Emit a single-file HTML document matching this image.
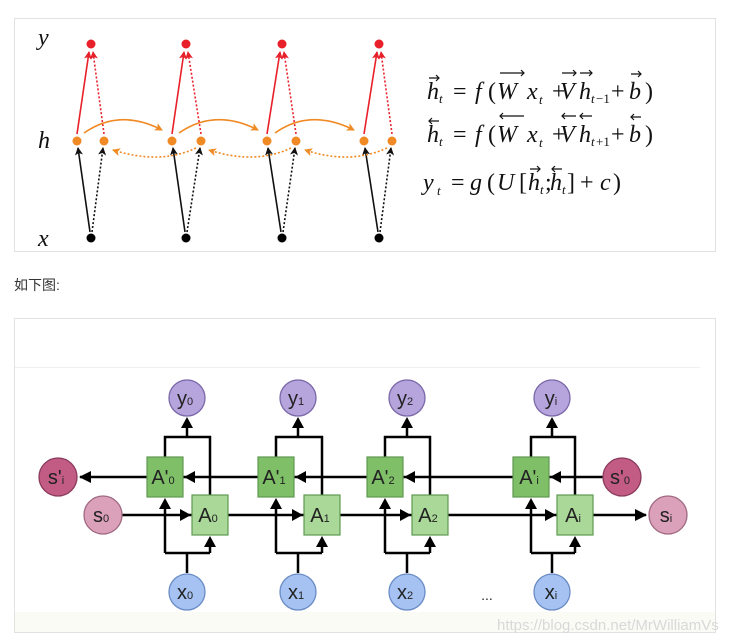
<!DOCTYPE html>
<html><head><meta charset="utf-8"><style>
body{margin:0;background:#fff;width:741px;height:644px;overflow:hidden}
svg{display:block}
</style></head><body>
<svg width="741" height="644" viewBox="0 0 741 644" xmlns="http://www.w3.org/2000/svg">
<defs>
<marker id="ar" markerWidth="8" markerHeight="8" refX="7" refY="4" orient="auto" markerUnits="userSpaceOnUse"><path d="M0,0 L8,4 L0,8 L2,4z" fill="#e8202a"/></marker>
<marker id="ab" markerWidth="8" markerHeight="8" refX="7" refY="4" orient="auto" markerUnits="userSpaceOnUse"><path d="M0,0 L8,4 L0,8 L2,4z" fill="#111"/></marker>
<marker id="ao" markerWidth="8" markerHeight="8" refX="7" refY="4" orient="auto" markerUnits="userSpaceOnUse"><path d="M0,0 L8,4 L0,8 L2,4z" fill="#f08a24"/></marker>
<marker id="ak" markerWidth="12" markerHeight="12" refX="11" refY="6" orient="auto" markerUnits="userSpaceOnUse"><path d="M0,0 L12,6 L0,12z" fill="#000"/></marker>
</defs>
<rect x="14.5" y="18.5" width="701" height="233" fill="#fff" stroke="#e2e2e2"/>
<g font-family="Liberation Serif, serif" font-style="italic" font-size="24" fill="#111">
<text x="38" y="45">y</text><text x="38" y="148">h</text><text x="38" y="246">x</text>
</g>
<g stroke-width="1.6" fill="none">
<line x1="77" y1="134" x2="89" y2="52" stroke="#e8202a" marker-end="url(#ar)"/>
<line x1="104" y1="134" x2="93" y2="52" stroke="#e8202a" stroke-dasharray="2,2" marker-end="url(#ar)"/>
<line x1="90" y1="232" x2="78" y2="148" stroke="#111" marker-end="url(#ab)"/>
<line x1="92" y1="232" x2="103" y2="148" stroke="#111" stroke-dasharray="2,2" marker-end="url(#ab)"/>
<line x1="172" y1="134" x2="184" y2="52" stroke="#e8202a" marker-end="url(#ar)"/>
<line x1="201" y1="134" x2="188" y2="52" stroke="#e8202a" stroke-dasharray="2,2" marker-end="url(#ar)"/>
<line x1="185" y1="232" x2="173" y2="148" stroke="#111" marker-end="url(#ab)"/>
<line x1="187" y1="232" x2="200" y2="148" stroke="#111" stroke-dasharray="2,2" marker-end="url(#ab)"/>
<line x1="267" y1="134" x2="280" y2="52" stroke="#e8202a" marker-end="url(#ar)"/>
<line x1="296" y1="134" x2="284" y2="52" stroke="#e8202a" stroke-dasharray="2,2" marker-end="url(#ar)"/>
<line x1="281" y1="232" x2="268" y2="148" stroke="#111" marker-end="url(#ab)"/>
<line x1="283" y1="232" x2="295" y2="148" stroke="#111" stroke-dasharray="2,2" marker-end="url(#ab)"/>
<line x1="364" y1="134" x2="377" y2="52" stroke="#e8202a" marker-end="url(#ar)"/>
<line x1="392" y1="134" x2="381" y2="52" stroke="#e8202a" stroke-dasharray="2,2" marker-end="url(#ar)"/>
<line x1="378" y1="232" x2="365" y2="148" stroke="#111" marker-end="url(#ab)"/>
<line x1="380" y1="232" x2="391" y2="148" stroke="#111" stroke-dasharray="2,2" marker-end="url(#ab)"/>
<path d="M84,133 Q120,108 162,130" stroke="#f08a24" marker-end="url(#ao)"/>
<path d="M179,133 Q215,108 258,130" stroke="#f08a24" marker-end="url(#ao)"/>
<path d="M275,133 Q310,108 354,130" stroke="#f08a24" marker-end="url(#ao)"/>
<path d="M196,148 Q160,165 113,150" stroke="#f08a24" stroke-dasharray="2,2" marker-end="url(#ao)"/>
<path d="M291,148 Q255,165 209,150" stroke="#f08a24" stroke-dasharray="2,2" marker-end="url(#ao)"/>
<path d="M387,148 Q350,165 305,150" stroke="#f08a24" stroke-dasharray="2,2" marker-end="url(#ao)"/>
</g>
<g fill="#e8202a"><circle cx="91" cy="44" r="4.5"/><circle cx="186" cy="44" r="4.5"/><circle cx="282" cy="44" r="4.5"/><circle cx="379" cy="44" r="4.5"/></g>
<g fill="#f08a24"><circle cx="77" cy="141" r="4.5"/><circle cx="104" cy="141" r="4.5"/><circle cx="172" cy="141" r="4.5"/><circle cx="201" cy="141" r="4.5"/><circle cx="267" cy="141" r="4.5"/><circle cx="296" cy="141" r="4.5"/><circle cx="364" cy="141" r="4.5"/><circle cx="392" cy="141" r="4.5"/></g>
<g fill="#000"><circle cx="91" cy="238" r="4.5"/><circle cx="186" cy="238" r="4.5"/><circle cx="282" cy="238" r="4.5"/><circle cx="379" cy="238" r="4.5"/></g>
<!-- equations -->
<g font-family="Liberation Serif, serif" font-size="24" fill="#111">
<g font-style="italic">
<text x="427" y="99">h</text><text x="439" y="103" font-size="13">t</text>
<text x="475" y="99">f</text>
<text x="497" y="99">W</text><text x="527" y="99">x</text><text x="539" y="104" font-size="13">t</text>
<text x="560" y="99">V</text><text x="579" y="99">h</text><text x="591" y="103" font-size="13">t</text>
<text x="629" y="99">b</text>
<text x="427" y="142">h</text><text x="439" y="146" font-size="13">t</text>
<text x="475" y="142">f</text>
<text x="497" y="142">W</text><text x="527" y="142">x</text><text x="539" y="147" font-size="13">t</text>
<text x="560" y="142">V</text><text x="579" y="142">h</text><text x="591" y="146" font-size="13">t</text>
<text x="629" y="142">b</text>
<text x="423" y="190">y</text><text x="437" y="195" font-size="13">t</text>
<text x="470" y="190">g</text>
<text x="497" y="190">U</text>
<text x="528" y="190">h</text><text x="540" y="194" font-size="13">t</text>
<text x="550" y="190">h</text><text x="562" y="194" font-size="13">t</text>
<text x="600" y="190">c</text>
</g>
<text x="453" y="99">=</text><text x="488" y="99">(</text><text x="552" y="99">+</text><text x="596" y="103" font-size="13">−1</text><text x="611" y="99">+</text><text x="645" y="99">)</text>
<text x="453" y="142">=</text><text x="488" y="142">(</text><text x="552" y="142">+</text><text x="596" y="146" font-size="13">+1</text><text x="611" y="142">+</text><text x="645" y="142">)</text>
<text x="451" y="190">=</text><text x="487" y="190">(</text><text x="519" y="190">[</text><text x="545" y="190">;</text><text x="567" y="190">]</text><text x="580" y="190">+</text><text x="613" y="190">)</text>
</g>
<g stroke="#111" stroke-width="1.2" fill="none">
<path d="M429,78 h10 M436,75 l3,3 -3,3"/>
<path d="M500,73 h24 M521,70 l3,3 -3,3"/>
<path d="M562,73 h14 M573,70 l3,3 -3,3"/>
<path d="M580,73 h12 M589,70 l3,3 -3,3"/>
<path d="M631,74 h10 M638,71 l3,3 -3,3"/>
<path d="M429,121 h10 M432,118 l-3,3 3,3"/>
<path d="M500,116 h24 M503,113 l-3,3 3,3"/>
<path d="M562,116 h14 M565,113 l-3,3 3,3"/>
<path d="M580,116 h12 M583,113 l-3,3 3,3"/>
<path d="M631,117 h10 M634,114 l-3,3 3,3"/>
<path d="M530,169 h10 M537,166 l3,3 -3,3"/>
<path d="M552,169 h10 M555,166 l-3,3 3,3"/>
</g>
<text x="14" y="290" font-family="Liberation Sans, 'Noto Sans CJK SC', sans-serif" font-size="14" fill="#333">如下图:</text>
<!-- bottom panel -->
<rect x="14.5" y="318.5" width="701" height="314" fill="#fff" stroke="#e2e2e2"/>
<line x1="15" y1="367.5" x2="700" y2="367.5" stroke="#f0f0f0"/>
<rect x="15" y="612" width="700" height="20" fill="#fbfbf6"/>
<g stroke="#000" stroke-width="2.5" fill="none">
<line x1="603" y1="477" x2="150" y2="477"/>
<line x1="147" y1="477" x2="80" y2="477" marker-end="url(#ak)"/>
<line x1="122" y1="515" x2="646" y2="515" marker-end="url(#ak)"/>
</g>
<g stroke="#000" stroke-width="2.5" fill="none">
<path d="M187,573 V553 M165,553 H210 M165,553 V505 M210,553 V543"/>
<path d="M165,457 V437 H210 V495 M187,437 V425"/>
<path d="M298,573 V553 M276,553 H322 M276,553 V505 M322,553 V543"/>
<path d="M276,457 V437 H322 V495 M298,437 V425"/>
<path d="M407,573 V553 M385,553 H430 M385,553 V505 M430,553 V543"/>
<path d="M385,457 V437 H430 V495 M407,437 V425"/>
<path d="M552,573 V553 M531,553 H575 M531,553 V505 M575,553 V543"/>
<path d="M531,457 V437 H575 V495 M552,437 V425"/>
</g>
<g stroke="#5f9a4f" stroke-width="1.2">
<rect x="147" y="457" width="36" height="40" fill="#7fbf68"/>
<rect x="258" y="457" width="36" height="40" fill="#7fbf68"/>
<rect x="367" y="457" width="36" height="40" fill="#7fbf68"/>
<rect x="513" y="457" width="36" height="40" fill="#7fbf68"/>
<rect x="192" y="495" width="36" height="40" fill="#a9d898"/>
<rect x="304" y="495" width="36" height="40" fill="#a9d898"/>
<rect x="412" y="495" width="36" height="40" fill="#a9d898"/>
<rect x="557" y="495" width="36" height="40" fill="#a9d898"/>
</g>
<g fill="#000">
<path d="M159,509 h12 l-6,-11z M204,547 h12 l-6,-11z M181,428 h12 l-6,-11z"/>
<path d="M270,509 h12 l-6,-11z M316,547 h12 l-6,-11z M292,428 h12 l-6,-11z"/>
<path d="M379,509 h12 l-6,-11z M424,547 h12 l-6,-11z M401,428 h12 l-6,-11z"/>
<path d="M525,509 h12 l-6,-11z M569,547 h12 l-6,-11z M546,428 h12 l-6,-11z"/>
<path d="M180,509 v12 l11,-6z M292,509 v12 l11,-6z M400,509 v12 l11,-6z M545,509 v12 l11,-6z"/>
<path d="M195,471 v12 l-11,-6z M306,471 v12 l-11,-6z M415,471 v12 l-11,-6z M561,471 v12 l-11,-6z"/>
</g>
<g stroke-width="1.3">
<circle cx="187" cy="398" r="18" fill="#b6a5dd" stroke="#7a68a8"/>
<circle cx="298" cy="398" r="18" fill="#b6a5dd" stroke="#7a68a8"/>
<circle cx="407" cy="398" r="18" fill="#b6a5dd" stroke="#7a68a8"/>
<circle cx="552" cy="398" r="18" fill="#b6a5dd" stroke="#7a68a8"/>
<circle cx="187" cy="592" r="18" fill="#a5c2f2" stroke="#6a8cc4"/>
<circle cx="298" cy="592" r="18" fill="#a5c2f2" stroke="#6a8cc4"/>
<circle cx="407" cy="592" r="18" fill="#a5c2f2" stroke="#6a8cc4"/>
<circle cx="552" cy="592" r="18" fill="#a5c2f2" stroke="#6a8cc4"/>
<circle cx="58" cy="477" r="19" fill="#c25c85" stroke="#8a3a5c"/>
<circle cx="622" cy="477" r="19" fill="#c25c85" stroke="#8a3a5c"/>
<circle cx="103" cy="515" r="19" fill="#dba0ba" stroke="#a06a82"/>
<circle cx="668" cy="515" r="19" fill="#dba0ba" stroke="#a06a82"/>
</g>
<g font-family="Liberation Sans, sans-serif" font-size="20" fill="#222" text-anchor="middle">
<text x="185" y="405">y<tspan font-size="11">0</tspan></text>
<text x="296" y="405">y<tspan font-size="11">1</tspan></text>
<text x="405" y="405">y<tspan font-size="11">2</tspan></text>
<text x="551" y="405">y<tspan font-size="11">i</tspan></text>
<text x="185" y="599">x<tspan font-size="11">0</tspan></text>
<text x="296" y="599">x<tspan font-size="11">1</tspan></text>
<text x="405" y="599">x<tspan font-size="11">2</tspan></text>
<text x="551" y="599">x<tspan font-size="11">i</tspan></text>
<text x="163" y="484">A'<tspan font-size="11">0</tspan></text>
<text x="274" y="484">A'<tspan font-size="11">1</tspan></text>
<text x="383" y="484">A'<tspan font-size="11">2</tspan></text>
<text x="529" y="484">A'<tspan font-size="11">i</tspan></text>
<text x="208" y="522">A<tspan font-size="11">0</tspan></text>
<text x="320" y="522">A<tspan font-size="11">1</tspan></text>
<text x="428" y="522">A<tspan font-size="11">2</tspan></text>
<text x="573" y="522">A<tspan font-size="11">i</tspan></text>
<text x="56" y="484">s'<tspan font-size="11">i</tspan></text>
<text x="620" y="484">s'<tspan font-size="11">0</tspan></text>
<text x="101" y="522">s<tspan font-size="11">0</tspan></text>
<text x="666" y="522">s<tspan font-size="11">i</tspan></text>
<text x="487" y="600" font-size="14">...</text>
</g>
<text x="497" y="630" font-family="Liberation Sans, sans-serif" font-size="15" fill="#d8d8d8">https://blog.csdn.net/MrWilliamVs</text>
</svg>
</body></html>
